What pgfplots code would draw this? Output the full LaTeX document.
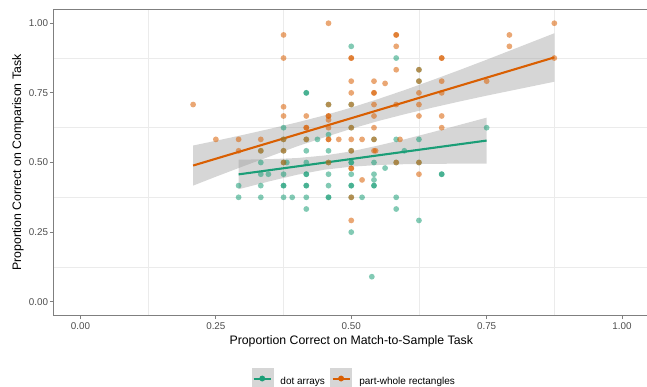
\documentclass[border=0pt]{standalone}
\usepackage{fontspec}
\setmainfont{Liberation Sans}
\usepackage{pgfplots}
\pgfplotsset{compat=1.18}
\definecolor{dotg}{HTML}{1B9E77}
\definecolor{pwo}{HTML}{D95F02}
\definecolor{bandc}{HTML}{999999}
\definecolor{keyc}{HTML}{D6D6D6}
\definecolor{gridc}{HTML}{EBEBEB}
\definecolor{ticktext}{HTML}{4D4D4D}
\definecolor{axc}{HTML}{7F7F7F}
\begin{document}
\begin{tikzpicture}[x=1pt,y=1pt]
\useasboundingbox (-53.4,-70.3) rectangle (593.6,315.7);
\begin{axis}[
  at={(0,0)}, anchor=south west,
  scale only axis, width=595.7pt, height=306.4pt,
  xmin=-0.05, xmax=1.05, ymin=-0.05, ymax=1.05,
  enlargelimits=false,
  axis line style={axc, line width=0.9pt},
  xtick={0,0.25,0.5,0.75,1}, ytick={0,0.25,0.5,0.75,1},
  xticklabels={0.00,0.25,0.50,0.75,1.00},
  yticklabels={0.00,0.25,0.50,0.75,1.00},
  minor xtick={0.125,0.375,0.625,0.875},
  minor ytick={0.125,0.375,0.625,0.875},
  xminorgrids, yminorgrids,
  minor grid style={gridc, line width=0.8pt},
  minor tick length=0pt,
  major tick length=3.5pt,
  tick align=outside,
  tick style={axc, line width=0.9pt},
  xtick pos=lower, ytick pos=left,
  tick label style={font=\fontsize{9.85}{11}\selectfont, color=ticktext},
  /pgf/number format/assume math mode=true,
  xticklabel style={inner sep=0pt},
  yticklabel style={inner sep=0pt},
  xticklabel shift=2.8pt, yticklabel shift=1.6pt,
  xlabel={Proportion Correct on Match-to-Sample Task},
  ylabel={Proportion Correct on Comparison Task},
  label style={font=\fontsize{12.3}{14}\selectfont, color=black},
  xlabel style={at={(axis description cs:0.5,-0.0826)}, anchor=center},
  ylabel style={at={(axis description cs:-0.0594,0.5)}, anchor=center},
  legend style={at={(axis description cs:0.505,-0.205)}, anchor=center,
    draw=none, fill=none, legend columns=2,
    font=\fontsize{10}{12}\selectfont,
    /tikz/every odd column/.append style={column sep=5.5pt},
    /tikz/every even column/.append style={column sep=3.5pt}},
  legend cell align=left,
]
\addlegendimage{legend image code/.code={
  \fill[keyc] (0pt,-7pt) rectangle (21pt,14pt);
  \draw[dotg, line width=2pt] (2pt,3.5pt) -- (19pt,3.5pt);
  \fill[dotg] (10.5pt,3.5pt) circle (2.7pt);}}
\addlegendentry{dot arrays}
\addlegendimage{legend image code/.code={
  \fill[keyc] (0pt,-7pt) rectangle (21pt,14pt);
  \draw[pwo, line width=2pt] (2pt,3.5pt) -- (19pt,3.5pt);
  \fill[pwo] (10.5pt,3.5pt) circle (2.7pt);}}
\addlegendentry{part-whole rectangles}

% dot arrays points
\addplot[forget plot, only marks, mark=*, mark size=2.9pt, color=dotg,
  mark options={draw opacity=0, fill=dotg, fill opacity=0.55}] coordinates {
(0.292,0.417)(0.292,0.375)
(0.333,0.542)(0.333,0.5)(0.333,0.458)(0.333,0.417)(0.333,0.375)(0.347,0.458)
(0.375,0.625)(0.375,0.583)(0.375,0.542)(0.375,0.5)(0.375,0.458)(0.375,0.417)(0.375,0.417)(0.375,0.375)(0.381,0.5)(0.391,0.375)
(0.417,0.75)(0.417,0.75)(0.417,0.583)(0.417,0.542)(0.417,0.5)(0.417,0.458)(0.417,0.458)(0.417,0.417)(0.417,0.417)(0.417,0.375)(0.417,0.333)(0.4375,0.583)
(0.458,0.708)(0.458,0.6)(0.458,0.542)(0.458,0.5)(0.458,0.458)(0.458,0.417)(0.458,0.375)(0.458,0.375)
(0.5,0.917)(0.5,0.708)(0.5,0.625)(0.5,0.542)(0.5,0.5)(0.5,0.5)(0.5,0.458)(0.5,0.417)(0.5,0.417)(0.5,0.375)(0.5,0.25)
(0.52,0.375)
(0.542,0.583)(0.542,0.5)(0.542,0.458)(0.542,0.4375)(0.542,0.417)(0.542,0.417)(0.538,0.09)
(0.5625,0.48)
(0.583,0.875)(0.583,0.583)(0.583,0.5)(0.583,0.375)(0.583,0.333)(0.598,0.542)
(0.625,0.833)(0.625,0.792)(0.625,0.583)(0.625,0.5)(0.625,0.292)
(0.667,0.458)(0.667,0.458)
(0.75,0.625)
};
% part-whole rectangles points
\addplot[forget plot, only marks, mark=*, mark size=2.9pt, color=pwo,
  mark options={draw opacity=0, fill=pwo, fill opacity=0.55}] coordinates {
(0.208,0.708)
(0.25,0.583)
(0.292,0.583)(0.292,0.542)
(0.333,0.583)(0.333,0.542)
(0.375,0.958)(0.375,0.875)(0.375,0.7)(0.375,0.667)(0.375,0.583)(0.375,0.542)(0.375,0.5)
(0.417,0.667)(0.417,0.625)(0.417,0.625)(0.417,0.583)
(0.458,1)(0.458,0.708)(0.458,0.667)(0.458,0.667)(0.458,0.653)(0.458,0.625)(0.458,0.583)(0.458,0.583)(0.458,0.5)
(0.477,0.583)
(0.5,0.875)(0.5,0.875)(0.5,0.792)(0.5,0.75)(0.5,0.708)(0.5,0.625)(0.5,0.583)(0.5,0.542)(0.5,0.479)(0.5,0.479)(0.5,0.375)(0.5,0.292)
(0.52,0.583)(0.52,0.4375)
(0.542,0.792)(0.542,0.75)(0.542,0.75)(0.542,0.708)(0.542,0.667)(0.542,0.625)(0.542,0.583)(0.542,0.542)(0.545,0.542)
(0.5625,0.784)
(0.583,0.958)(0.583,0.958)(0.583,0.917)(0.583,0.833)(0.583,0.708)(0.583,0.5)(0.59,0.583)
(0.625,0.833)(0.625,0.792)(0.625,0.75)(0.625,0.708)(0.625,0.667)(0.625,0.5)(0.625,0.458)
(0.667,0.875)(0.667,0.875)(0.667,0.792)(0.667,0.75)(0.667,0.667)(0.667,0.625)
(0.75,0.792)
(0.792,0.958)(0.792,0.917)
(0.875,1)(0.875,0.875)
};
% dot arrays confidence band and fit
\addplot[forget plot, draw=none, fill=bandc, fill opacity=0.4] coordinates {
(0.292,0.510)(0.35,0.512)(0.40,0.516)(0.45,0.525)(0.50,0.540)(0.55,0.561)(0.60,0.584)(0.65,0.609)(0.70,0.635)(0.75,0.661)
(0.75,0.496)(0.70,0.496)(0.65,0.495)(0.60,0.494)(0.55,0.491)(0.50,0.485)(0.45,0.474)(0.40,0.456)(0.35,0.433)(0.292,0.404)
} -- cycle;
\addplot[forget plot, dotg, line width=2.1pt] coordinates {(0.292,0.4574)(0.75,0.5788)};
% part-whole band and fit
\addplot[forget plot, draw=none, fill=bandc, fill opacity=0.4] coordinates {
(0.208,0.561)(0.25,0.578)(0.30,0.599)(0.35,0.621)(0.40,0.644)(0.45,0.669)(0.50,0.697)(0.55,0.728)(0.60,0.761)(0.65,0.796)(0.70,0.832)(0.75,0.869)(0.80,0.907)(0.875,0.964)
(0.875,0.790)(0.80,0.760)(0.75,0.740)(0.70,0.719)(0.65,0.697)(0.60,0.674)(0.55,0.649)(0.50,0.621)(0.45,0.590)(0.40,0.558)(0.35,0.522)(0.30,0.486)(0.25,0.449)(0.208,0.417)
} -- cycle;
\addplot[forget plot, pwo, line width=2.1pt] coordinates {(0.208,0.4891)(0.875,0.8773)};
\end{axis}
\end{tikzpicture}
\end{document}
